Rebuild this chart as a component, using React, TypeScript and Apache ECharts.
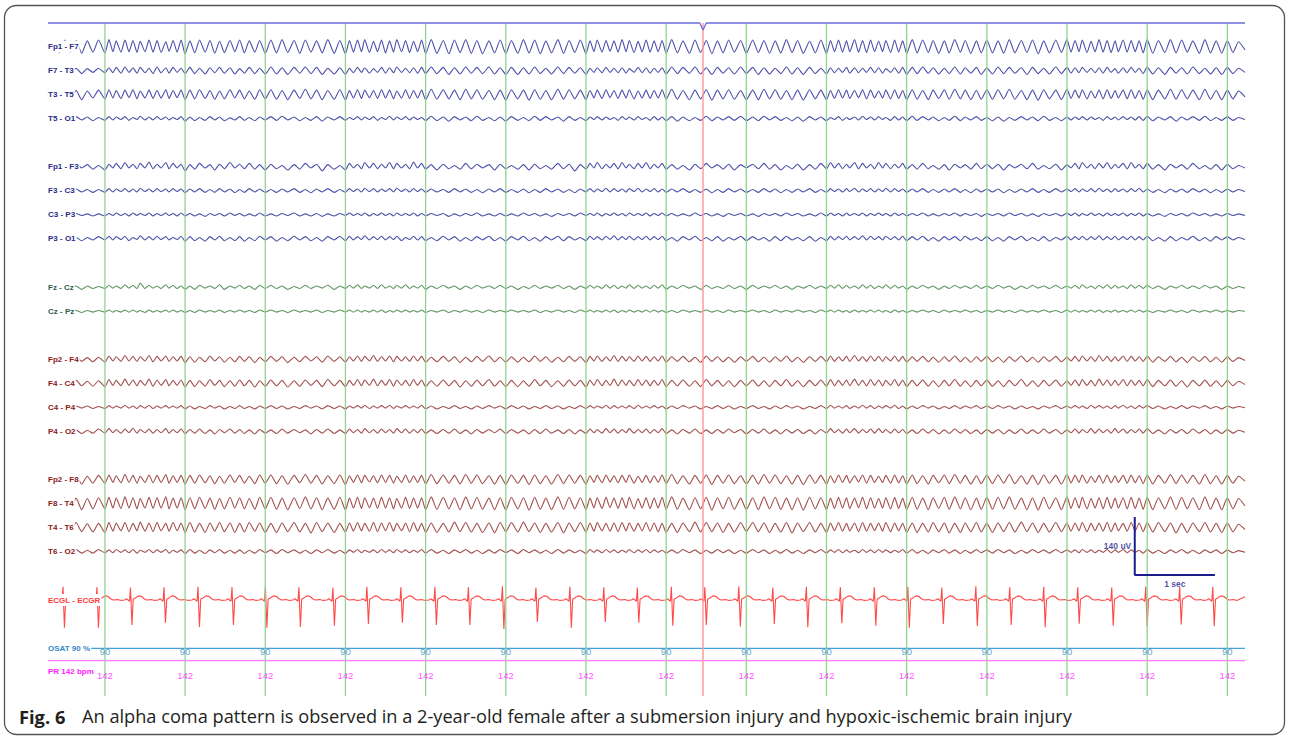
import React, { useEffect, useRef } from "react";
import * as echarts from "echarts";

// ---------- DATA ----------
// Half-wave durations (centiseconds), grouped by displayed second
const HALF_WAVE_CS: number[][] = [
  [7,7,7,7,7,7,7,7,7,8],
  [5,5,4,6,5,5,5,5,4,6,5,5,5,5,6,4,5,5,5,5],
  [6,6,6,7,6,6,6,6,7,6,6,6,6,7,6,7],
  [7,7,7,7,8,7,7,7,7,7,7,8,7,7],
  [5,5,5,5,4,6,5,5,5,5,5,5,4,6,5,5,5,5,5,5],
  [7,7,8,7,7,7,7,7,7,7,8,7,7,7],
  [7,8,7,7,7,7,7,7,8,7,7,7,7,7],
  [5,5,4,6,5,5,5,5,5,5,4,6,5,5,5,5,5,5,5,5],
  [7,7,7,8,7,7,7,7,7,7,7,7,8,7],
  [8,7,7,7,7,7,7,7,7,7,8,7,7,7],
  [5,5,5,5,5,4,6,5,5,5,5,5,5,5,4,6,5,5,5,5],
  [7,6,7,7,6,7,7,6,7,7,6,7,7,6,7],
  [7,7,7,7,7,8,7,7,7,7,7,8,7,7],
  [5,5,5,4,6,5,5,5,5,5,5,5,4,6,5,5,5,5,5,5],
  [7,7,8,7,7,7,7,7,8,7,7,7,7,7],
  [7,7,8],
];

const EEG_LABELS = [
  "Fp1 - F7","F7 - T3","T3 - T5","T5 - O1",
  "Fp1 - F3","F3 - C3","C3 - P3","P3 - O1",
  "Fz - Cz","Cz - Pz",
  "Fp2 - F4","F4 - C4","C4 - P4","P4 - O2",
  "Fp2 - F8","F8 - T4","T4 - T6","T6 - O2",
];

// amplitudes in microvolts at each turning point
const FP1_F7 = [
  [0,12,-15,16,-14,15,-16,14,-13,16,-15],
  [17,-12,14,-13,16,-12,15,-14,13,-12,16,-13,15,-14,12,-11,15,-13,16,-17],
  [14,-15,16,-13,15,-16,13,-14,15,-12,16,-15,14,-13,15,-16],
  [16,-15,17,-14,15,-16,16,-13,14,-15,17,-16,15,-17],
  [15,-13,16,-12,17,-14,13,-12,16,-15,14,-13,17,-12,15,-14,13,-12,16,-17],
  [17,-16,15,-17,16,-14,17,-16,15,-17,14,-15,16,-17],
  [15,-16,17,-15,16,-17,14,-15,17,-16,15,-14,16,-17],
  [14,-12,16,-13,15,-11,14,-13,17,-12,15,-14,13,-12,16,-13,14,-12,15,-16],
  [17,-15,14,-16,16,-14,15,-17,14,-15,16,-13,15,-16],
  [16,-14,15,-16,14,-15,17,-14,15,-16,13,-15,16,-17],
  [15,-12,16,-13,14,-12,17,-13,15,-14,16,-12,13,-12,15,-14,16,-13,14,-16],
  [17,-15,16,-14,15,-16,14,-15,17,-13,15,-16,14,-15,16],
  [-15,14,-16,17,-15,15,-14,16,-17,14,-15,16,-14,17],
  [-13,15,-12,16,-14,13,-12,17,-13,15,-14,14,-12,16,-13,15,-12,14,-15,17],
  [-16,15,-14,17,-15,16,-13,14,-16,17,-15,14,-16,15],
  [-14,12,-8],
];
const F7_T3 = [
  [0,5,-6,7,-5,6,-7,5,-4,6,-5],
  [7,-5,8,-6,9,-4,7,-6,8,-5,6,-7,9,-5,7,-6,8,-4,6,-7],
  [8,-7,6,-8,7,-5,8,-6,7,-8,5,-6,8,-7,6,-8],
  [9,-8,7,-9,8,-6,9,-7,8,-9,6,-8,7,-9],
  [6,-5,8,-4,7,-6,5,-4,8,-6,7,-5,9,-4,6,-5,7,-6,8,-7],
  [9,-7,8,-9,7,-8,9,-6,8,-7,9,-8,7,-9],
  [8,-9,7,-8,9,-7,6,-8,9,-7,8,-6,7,-9],
  [6,-4,7,-5,8,-4,6,-5,7,-6,5,-4,8,-5,7,-6,6,-4,7,-8],
  [9,-7,8,-6,9,-8,7,-9,8,-6,7,-8,9,-7],
  [8,-9,7,-8,6,-7,9,-8,7,-9,8,-7,6,-8],
  [7,-5,6,-4,8,-6,7,-5,6,-4,8,-5,7,-6,5,-4,7,-6,8,-9],
  [8,-7,9,-6,7,-8,6,-7,9,-8,7,-6,8,-9,7],
  [-8,9,-7,8,-6,7,-9,8,-7,6,-8,9,-7,8],
  [-6,7,-5,8,-4,6,-5,7,-6,8,-4,5,-6,7,-5,8,-4,6,-7,9],
  [-8,7,-9,8,-6,7,-8,9,-7,6,-8,7,-9,8],
  [-7,6,-4],
];
const T3_T5 = [
  [0,8,-10,11,-9,10,-12,9,-8,11,-10],
  [12,-8,10,-9,11,-7,12,-10,9,-8,11,-9,10,-8,12,-9,10,-7,11,-12],
  [11,-10,12,-9,10,-11,9,-10,12,-8,11,-10,9,-11,12,-10],
  [12,-11,10,-12,11,-9,13,-10,11,-12,10,-11,12,-13],
  [10,-8,12,-9,11,-7,10,-9,12,-8,11,-10,9,-8,12,-9,10,-8,11,-12],
  [13,-11,12,-10,11,-12,13,-10,12,-11,10,-12,11,-13],
  [12,-10,11,-13,12,-11,10,-12,13,-11,12,-10,11,-12],
  [10,-8,11,-9,12,-7,10,-9,11,-8,12,-10,9,-8,11,-9,10,-8,12,-11],
  [13,-11,10,-12,11,-10,12,-13,11,-10,12,-11,10,-12],
  [11,-12,13,-10,12,-11,10,-12,11,-13,12,-10,11,-12],
  [10,-9,12,-8,11,-9,10,-7,12,-10,11,-8,9,-8,11,-10,12,-9,10,-12],
  [12,-11,10,-12,11,-9,12,-11,13,-10,11,-12,10,-11,12],
  [-11,12,-10,13,-11,10,-12,11,-13,12,-10,11,-12,13],
  [-9,11,-8,12,-10,9,-8,11,-10,12,-9,10,-8,11,-10,12,-9,10,-11,12],
  [-12,11,-10,13,-11,12,-10,11,-12,13,-11,10,-12,11],
  [-10,9,-5],
];
const T5_O1 = [
  [0,4,-5,3,-4,5,-3,4,-5,3,-4],
  [5,-3,4,-2,5,-4,3,-2,6,-3,4,-3,5,-2,4,-3,3,-2,5,-6],
  [4,-5,3,-4,5,-3,4,-5,2,-3,5,-4,3,-5,4,-3],
  [5,-4,6,-3,4,-5,3,-4,5,-6,4,-3,5,-4],
  [3,-2,5,-3,4,-2,5,-4,3,-2,6,-3,4,-2,5,-3,4,-2,3,-5],
  [6,-5,4,-6,5,-3,4,-5,6,-4,3,-5,4,-6],
  [5,-4,3,-5,6,-4,5,-3,4,-6,5,-4,3,-5],
  [4,-2,5,-3,4,-2,3,-4,5,-2,4,-3,5,-2,3,-4,5,-3,4,-5],
  [5,-6,4,-5,3,-4,6,-5,4,-3,5,-4,6,-5],
  [4,-5,6,-3,5,-4,3,-5,4,-6,5,-3,4,-5],
  [3,-2,5,-4,3,-2,4,-3,6,-2,4,-3,5,-2,3,-4,5,-3,4,-5],
  [6,-4,5,-3,4,-5,3,-4,6,-5,4,-3,5,-4,3],
  [-5,4,-6,3,-4,5,-3,4,-5,6,-4,3,-5,4],
  [-3,4,-2,5,-3,4,-2,3,-4,5,-2,4,-3,5,-2,4,-3,5,-4,6],
  [-5,4,-3,5,-6,4,-3,5,-4,6,-5,3,-4,5],
  [-4,3,-2],
];
const FP1_F3 = [
  [0,5,-6,3,-5,6,-3,5,-6,3,-8],
  [6,-3,8,-5,10,-3,6,-5,8,-3,11,-5,6,-3,10,-5,8,-3,6,-10],
  [5,-6,8,-3,5,-8,6,-5,10,-3,6,-5,8,-6,5,-8],
  [6,-5,3,-8,5,-6,8,-3,6,-10,5,-6,3,-8],
  [8,-3,6,-5,10,-3,8,-5,6,-3,10,-5,8,-3,6,-5,11,-3,8,-6],
  [5,-8,6,-5,3,-6,8,-5,6,-3,5,-8,6,-5],
  [3,-6,5,-8,6,-5,3,-6,8,-5,6,-10,5,-6],
  [8,-3,10,-5,6,-3,8,-5,10,-3,6,-5,8,-3,10,-5,6,-3,8,-6],
  [5,-6,3,-8,6,-5,8,-3,5,-6,6,-8,5,-3],
  [6,-5,8,-6,5,-8,3,-5,6,-8,5,-6,8,-5],
  [10,-3,8,-5,6,-3,10,-5,8,-3,6,-5,10,-3,8,-5,6,-3,8,-6],
  [5,-6,8,-5,3,-6,5,-8,6,-3,5,-6,8,-5,6],
  [-5,6,-8,5,-3,6,-5,8,-6,3,-5,6,-8,5],
  [-3,8,-5,10,-3,6,-5,8,-3,10,-5,6,-3,8,-5,10,-3,6,-5,8],
  [-6,5,-8,6,-3,5,-6,8,-5,3,-6,5,-8,6],
  [-5,3,-3],
];
const F3_C3 = [
  [0,3,-4,3,-3,4,-3,3,-4,3,-4],
  [5,-3,4,-2,5,-3,4,-3,6,-2,4,-3,5,-2,4,-3,5,-2,4,-5],
  [4,-3,5,-4,3,-4,5,-3,4,-5,3,-4,5,-3,4,-4],
  [3,-4,4,-3,5,-4,3,-5,4,-3,5,-4,3,-4],
  [5,-2,4,-3,6,-2,5,-3,4,-2,5,-3,6,-2,4,-3,5,-2,4,-4],
  [4,-3,3,-4,5,-3,4,-4,3,-5,4,-3,5,-4],
  [3,-4,4,-5,3,-4,5,-3,4,-4,3,-5,4,-3],
  [5,-3,4,-2,6,-3,5,-2,4,-3,5,-2,6,-3,4,-2,5,-3,4,-4],
  [4,-3,5,-4,3,-4,4,-5,3,-4,5,-3,4,-4],
  [3,-4,5,-3,4,-5,3,-4,4,-3,5,-4,3,-4],
  [5,-2,4,-3,5,-2,6,-3,4,-2,5,-3,4,-2,6,-3,5,-2,4,-4],
  [4,-3,5,-4,3,-4,4,-3,5,-4,3,-5,4,-3,4],
  [-3,4,-5,3,-4,4,-3,5,-4,3,-4,5,-3,4],
  [-2,5,-3,4,-2,5,-3,6,-2,4,-3,5,-2,4,-3,5,-2,6,-3,4],
  [-4,3,-5,4,-3,4,-4,5,-3,4,-5,3,-4,4],
  [-3,3,-2],
];
const C3_P3 = [
  [0,2,-3,2,-2,3,-2,2,-3,2,-3],
  [3,-2,4,-2,3,-3,4,-2,3,-2,4,-3,3,-2,4,-2,3,-3,4,-3],
  [3,-3,2,-4,3,-2,3,-3,4,-2,3,-3,2,-3,4,-3],
  [2,-3,3,-2,4,-3,2,-3,3,-4,2,-3,3,-2],
  [4,-2,3,-2,4,-3,3,-2,4,-2,3,-3,4,-2,3,-2,4,-3,3,-3],
  [3,-2,3,-4,2,-3,3,-2,4,-3,2,-3,3,-3],
  [2,-3,4,-2,3,-3,2,-4,3,-2,3,-3,4,-2],
  [3,-2,4,-3,3,-2,4,-2,3,-3,4,-2,3,-2,4,-3,3,-2,4,-3],
  [3,-3,2,-3,4,-2,3,-3,2,-4,3,-2,3,-3],
  [2,-4,3,-2,3,-3,4,-2,3,-3,2,-3,4,-3],
  [4,-2,3,-3,4,-2,3,-2,4,-3,3,-2,4,-2,3,-3,4,-2,3,-3],
  [3,-2,4,-3,2,-3,3,-2,4,-3,3,-2,3,-4,3],
  [-2,3,-3,4,-2,3,-3,2,-4,3,-2,3,-3,4],
  [-2,4,-3,3,-2,4,-2,3,-3,4,-2,3,-2,4,-3,3,-2,4,-3,3],
  [-3,2,-4,3,-2,3,-3,4,-2,3,-3,2,-3,3],
  [-2,2,-2],
];
const P3_O1 = [
  [0,3,-5,5,-3,3,-5,3,-3,5,-3],
  [6,-3,5,-2,6,-5,3,-2,7,-3,5,-3,6,-2,5,-3,3,-2,6,-6],
  [5,-5,3,-6,5,-3,6,-5,3,-5,5,-6,3,-5,6,-3],
  [5,-6,3,-5,6,-3,5,-5,3,-6,5,-3,6,-5],
  [6,-3,5,-2,7,-3,5,-2,6,-3,5,-2,6,-5,3,-2,6,-3,5,-5],
  [3,-5,6,-3,5,-6,3,-5,5,-3,6,-5,3,-6],
  [5,-3,6,-5,3,-6,5,-3,6,-5,5,-3,3,-5],
  [6,-2,5,-3,6,-2,7,-3,5,-2,6,-3,5,-2,6,-3,5,-2,6,-5],
  [3,-6,5,-3,6,-5,3,-5,5,-6,3,-3,6,-5],
  [5,-3,3,-6,5,-5,6,-3,3,-5,5,-6,3,-5],
  [6,-3,5,-2,6,-3,5,-2,7,-3,6,-2,5,-3,6,-2,5,-3,6,-5],
  [5,-3,6,-5,3,-6,5,-3,5,-5,6,-3,3,-5,5],
  [-5,3,-6,5,-3,6,-5,3,-5,5,-6,3,-3,6],
  [-3,5,-2,6,-3,5,-2,7,-3,5,-2,6,-3,5,-2,6,-3,5,-3,6],
  [-5,3,-6,5,-5,3,-3,6,-5,3,-6,5,-3,5],
  [-3,3,-2],
];
const FZ_CZ = [
  [0,3,-3,5,-2,3,-5,3,-3,2,-3],
  [5,-2,3,-3,6,-2,5,-3,10,-3,5,-2,3,-3,6,-2,5,-3,3,-5],
  [3,-5,5,-2,3,-3,6,-5,3,-2,5,-3,3,-5,5,-3],
  [5,-3,3,-5,2,-3,5,-3,3,-2,5,-5,3,-3],
  [5,-2,6,-3,3,-2,5,-3,6,-2,3,-3,5,-2,6,-3,3,-2,5,-5],
  [3,-3,5,-2,3,-5,3,-3,5,-2,3,-3,5,-3],
  [3,-5,2,-3,5,-3,3,-2,5,-3,3,-5,3,-3],
  [5,-2,3,-3,6,-2,5,-3,3,-2,6,-3,5,-2,3,-3,5,-2,6,-5],
  [3,-3,5,-2,3,-5,5,-3,2,-3,5,-3,3,-5],
  [5,-3,3,-2,5,-3,3,-5,3,-2,5,-3,3,-3],
  [5,-2,6,-3,5,-2,3,-3,6,-2,5,-3,3,-2,6,-3,5,-2,3,-5],
  [3,-3,5,-2,3,-5,3,-3,5,-2,3,-3,5,-3,3],
  [-3,5,-2,3,-5,3,-3,5,-2,3,-3,5,-3,3],
  [-2,5,-3,6,-2,3,-3,5,-2,6,-3,5,-2,3,-3,6,-2,5,-3,5],
  [-3,3,-5,3,-2,5,-3,3,-3,5,-2,3,-5,3],
  [-3,2,-2],
];
const CZ_PZ = [
  [0,2,-2,3,-2,2,-3,2,-2,2,-2],
  [3,-2,2,-2,3,-2,3,-2,2,-3,3,-2,2,-2,3,-2,3,-2,2,-3],
  [2,-3,3,-2,2,-2,3,-3,2,-2,3,-2,2,-3,3,-2],
  [3,-2,2,-3,3,-2,2,-2,3,-3,2,-2,3,-2],
  [3,-2,3,-2,2,-2,3,-2,3,-3,2,-2,3,-2,3,-2,2,-2,3,-3],
  [2,-2,3,-3,2,-2,3,-2,2,-3,3,-2,2,-2],
  [3,-2,2,-2,3,-3,2,-2,3,-2,2,-3,3,-2],
  [3,-2,2,-2,3,-2,3,-3,2,-2,3,-2,2,-2,3,-2,3,-2,2,-3],
  [2,-3,3,-2,2,-2,3,-2,2,-3,3,-2,2,-2],
  [3,-2,2,-3,3,-2,2,-2,3,-2,2,-3,3,-2],
  [3,-2,3,-2,2,-3,3,-2,2,-2,3,-2,3,-2,2,-3,3,-2,2,-3],
  [2,-2,3,-2,2,-3,3,-2,2,-2,3,-2,2,-3,2],
  [-2,3,-2,2,-3,3,-2,2,-2,3,-2,2,-3,3],
  [-2,3,-2,2,-2,3,-2,3,-3,2,-2,3,-2,2,-2,3,-2,3,-2,2],
  [-3,2,-2,3,-2,2,-3,3,-2,2,-2,3,-2,2],
  [-2,2,0],
];
const FP2_F4 = [
  [0,4,-6,5,-4,7,-5,4,-6,5,-7],
  [8,-4,6,-5,9,-4,7,-5,6,-4,9,-6,7,-4,8,-5,6,-4,7,-8],
  [6,-7,5,-6,8,-4,6,-7,5,-6,7,-5,6,-8,5,-6],
  [7,-5,6,-8,5,-6,7,-4,6,-7,8,-5,6,-7],
  [6,-4,8,-5,7,-4,9,-5,6,-4,8,-6,7,-4,6,-5,8,-4,7,-7],
  [5,-6,7,-5,6,-8,5,-6,7,-5,8,-6,5,-7],
  [6,-7,5,-6,8,-5,6,-7,5,-6,7,-5,6,-8],
  [7,-4,8,-5,6,-4,9,-5,7,-4,6,-5,8,-4,7,-5,6,-4,8,-7],
  [6,-5,7,-6,5,-7,8,-5,6,-6,5,-7,6,-5],
  [7,-6,5,-7,6,-5,8,-6,5,-7,6,-5,7,-6],
  [8,-5,6,-4,7,-5,9,-4,6,-5,8,-4,7,-5,6,-4,8,-5,7,-7],
  [6,-5,7,-6,5,-7,6,-5,8,-6,5,-7,6,-5,7],
  [-6,5,-7,6,-5,8,-6,5,-7,6,-5,7,-6,5],
  [-4,7,-5,8,-4,6,-5,9,-4,7,-5,6,-4,8,-5,7,-4,6,-5,8],
  [-7,6,-5,7,-6,5,-8,6,-5,7,-6,5,-7,6],
  [-5,4,-3],
];
const F4_C4 = [
  [0,5,-7,6,-5,8,-6,5,-7,6,-8],
  [9,-5,7,-6,10,-5,8,-6,7,-5,10,-7,8,-5,9,-6,7,-5,8,-9],
  [7,-8,6,-7,9,-5,7,-8,6,-7,8,-6,7,-9,6,-7],
  [8,-6,7,-9,6,-7,8,-5,7,-8,9,-6,7,-8],
  [7,-5,9,-6,8,-5,10,-6,7,-5,9,-7,8,-5,7,-6,9,-5,8,-8],
  [6,-7,8,-6,7,-9,6,-7,8,-6,9,-7,6,-8],
  [7,-8,6,-7,9,-6,7,-8,6,-7,8,-6,7,-9],
  [8,-5,9,-6,7,-5,10,-6,8,-5,7,-6,9,-5,8,-6,7,-5,9,-8],
  [7,-6,8,-7,6,-8,9,-6,7,-7,6,-8,7,-6],
  [8,-7,6,-8,7,-6,9,-7,6,-8,7,-6,8,-7],
  [9,-6,7,-5,8,-6,10,-5,7,-6,9,-5,8,-6,7,-5,9,-6,8,-8],
  [7,-6,8,-7,6,-8,7,-6,9,-7,6,-8,7,-6,8],
  [-7,6,-8,7,-6,9,-7,6,-8,7,-6,8,-7,6],
  [-5,8,-6,9,-5,7,-6,10,-5,8,-6,7,-5,9,-6,8,-5,7,-6,9],
  [-8,7,-6,8,-7,6,-9,7,-6,8,-7,6,-8,7],
  [-6,5,-3],
];
const C4_P4 = [
  [0,2,-3,2,-2,3,-2,3,-3,2,-3],
  [4,-2,3,-2,5,-2,3,-3,4,-2,5,-3,3,-2,4,-2,3,-2,4,-4],
  [3,-4,2,-3,4,-2,3,-4,2,-3,4,-3,2,-4,3,-3],
  [4,-3,3,-4,2,-3,4,-2,3,-4,4,-3,3,-4],
  [3,-2,4,-2,5,-3,3,-2,4,-2,5,-3,3,-2,4,-2,3,-2,5,-4],
  [3,-4,2,-3,4,-3,2,-4,3,-3,4,-2,3,-4],
  [4,-3,3,-4,2,-3,4,-3,3,-4,2,-3,4,-3],
  [4,-2,3,-2,5,-3,4,-2,3,-2,4,-3,5,-2,3,-2,4,-2,3,-4],
  [3,-3,4,-2,3,-4,2,-3,4,-3,3,-4,2,-3],
  [4,-3,2,-4,3,-3,4,-2,3,-4,2,-3,4,-3],
  [5,-2,3,-2,4,-3,3,-2,5,-2,4,-3,3,-2,4,-2,5,-3,3,-4],
  [3,-3,4,-2,3,-4,2,-3,4,-3,3,-2,4,-3,3],
  [-3,4,-2,3,-4,3,-3,2,-4,3,-2,4,-3,3],
  [-2,4,-2,3,-3,5,-2,4,-2,3,-3,4,-2,5,-2,3,-3,4,-2,4],
  [-3,3,-4,2,-3,4,-3,3,-2,4,-3,2,-4,3],
  [-2,2,-1],
];
const P4_O2 = [
  [0,3,-4,5,-3,4,-5,3,-4,6,-4],
  [7,-3,5,-4,6,-3,8,-4,5,-3,6,-4,5,-3,7,-4,5,-3,6,-5],
  [5,-4,6,-5,4,-6,5,-3,6,-4,5,-5,4,-6,5,-4],
  [4,-5,6,-4,5,-3,4,-6,5,-4,6,-5,4,-5],
  [6,-3,5,-4,7,-3,5,-4,6,-3,5,-4,7,-3,6,-4,5,-3,6,-5],
  [4,-5,5,-4,6,-5,4,-6,5,-4,5,-3,6,-5],
  [5,-4,4,-6,5,-5,6,-4,4,-5,5,-6,4,-5],
  [6,-3,5,-4,7,-3,6,-4,5,-3,7,-4,5,-3,6,-4,5,-3,7,-5],
  [4,-6,5,-4,6,-5,4,-5,5,-4,6,-3,5,-6],
  [5,-4,6,-5,4,-6,5,-4,5,-5,4,-6,5,-4],
  [7,-3,5,-4,6,-3,7,-4,5,-3,6,-4,7,-3,5,-4,6,-3,5,-5],
  [4,-5,6,-4,5,-6,4,-5,6,-4,5,-5,4,-6,5],
  [-4,5,-6,4,-5,6,-5,4,-5,6,-4,5,-6,4],
  [-3,6,-4,5,-3,7,-4,6,-3,5,-4,7,-3,6,-4,5,-3,6,-4,7],
  [-5,4,-6,5,-4,5,-5,6,-4,5,-6,4,-5,5],
  [-4,3,-2],
];
const FP2_F8 = [
  [0,7,-9,10,-8,9,-11,8,-9,10,-9],
  [11,-7,9,-8,12,-7,10,-9,8,-7,11,-8,10,-7,12,-9,9,-7,10,-11],
  [10,-9,11,-8,9,-10,8,-9,11,-7,10,-9,8,-10,11,-9],
  [11,-10,9,-11,10,-8,12,-9,10,-11,9,-10,11,-12],
  [9,-7,11,-8,10,-6,9,-8,11,-7,10,-9,8,-7,11,-8,9,-7,10,-11],
  [12,-10,11,-9,10,-11,12,-9,11,-10,9,-11,10,-12],
  [11,-9,10,-12,11,-10,9,-11,12,-10,11,-9,10,-11],
  [9,-7,10,-8,11,-6,9,-8,10,-7,11,-9,8,-7,10,-8,9,-7,11,-10],
  [12,-10,9,-11,10,-9,11,-12,10,-9,11,-10,9,-11],
  [10,-11,12,-9,11,-10,9,-11,10,-12,11,-9,10,-11],
  [9,-8,11,-7,10,-8,9,-6,11,-9,10,-7,8,-7,10,-9,11,-8,9,-11],
  [11,-10,9,-11,10,-8,11,-10,12,-9,10,-11,9,-10,11],
  [-10,11,-9,12,-10,9,-11,10,-12,11,-9,10,-11,12],
  [-8,10,-7,11,-9,8,-7,10,-9,11,-8,9,-7,10,-9,11,-8,9,-10,11],
  [-11,10,-9,12,-10,11,-9,10,-11,12,-10,9,-11,10],
  [-9,8,-4],
];
const F8_T4 = [
  [0,10,-13,14,-12,13,-15,12,-13,14,-13],
  [15,-11,13,-12,16,-11,14,-13,12,-11,15,-12,14,-11,16,-13,13,-11,14,-15],
  [14,-13,15,-12,13,-14,12,-13,15,-11,14,-13,12,-14,15,-13],
  [15,-14,13,-15,14,-12,16,-13,14,-15,13,-14,15,-16],
  [13,-11,15,-12,14,-10,13,-12,15,-11,14,-13,12,-11,15,-12,13,-11,14,-15],
  [16,-14,15,-13,14,-15,16,-13,15,-14,13,-15,14,-16],
  [15,-13,14,-16,15,-14,13,-15,16,-14,15,-13,14,-15],
  [13,-11,14,-12,15,-10,13,-12,14,-11,15,-13,12,-11,14,-12,13,-11,15,-14],
  [16,-14,13,-15,14,-13,15,-16,14,-13,15,-14,13,-15],
  [14,-15,16,-13,15,-14,13,-15,14,-16,15,-13,14,-15],
  [13,-12,15,-11,14,-12,13,-10,15,-13,14,-11,12,-11,14,-13,15,-12,13,-15],
  [15,-14,13,-15,14,-12,15,-14,16,-13,14,-15,13,-14,15],
  [-14,15,-13,16,-14,13,-15,14,-16,15,-13,14,-15,16],
  [-12,14,-11,15,-13,12,-11,14,-13,15,-12,13,-11,14,-13,15,-12,13,-14,15],
  [-15,14,-13,16,-14,15,-13,14,-15,16,-14,13,-15,14],
  [-13,12,-6],
];
const T4_T6 = [
  [0,9,-11,10,-9,12,-10,9,-11,10,-12],
  [12,-9,11,-8,12,-10,10,-8,13,-9,11,-10,12,-8,10,-9,12,-8,11,-12],
  [12,-11,10,-12,11,-9,12,-10,11,-12,10,-11,12,-9,11,-12],
  [10,-12,11,-10,12,-11,10,-13,12,-10,11,-12,10,-11],
  [11,-9,12,-8,10,-9,12,-10,11,-8,12,-9,10,-8,11,-10,12,-9,10,-12],
  [11,-12,10,-11,13,-10,12,-11,10,-12,11,-13,12,-10],
  [12,-11,13,-10,11,-12,10,-11,12,-13,11,-10,12,-11],
  [11,-9,12,-8,10,-9,11,-10,12,-8,11,-9,10,-8,12,-9,11,-10,10,-12],
  [10,-12,11,-10,13,-11,12,-10,11,-12,10,-11,12,-10],
  [12,-10,11,-12,10,-11,12,-13,11,-10,12,-11,10,-12],
  [11,-8,12,-9,10,-8,11,-10,12,-9,10,-8,11,-9,12,-10,11,-8,10,-12],
  [11,-12,10,-11,12,-10,11,-13,10,-12,11,-10,12,-11,10],
  [-12,11,-10,12,-11,13,-10,11,-12,10,-11,12,-10,11],
  [-9,11,-8,12,-10,10,-8,11,-9,12,-10,11,-8,10,-9,12,-8,11,-10,12],
  [-11,12,-10,11,-13,10,-12,11,-10,12,-11,10,-12,11],
  [-10,8,-5],
];
const T6_O2 = [
  [0,3,-4,4,-3,5,-4,3,-4,5,-3],
  [4,-3,5,-2,4,-3,5,-4,3,-2,5,-3,4,-2,5,-4,3,-2,4,-5],
  [5,-4,3,-5,4,-3,5,-4,3,-4,4,-5,3,-4,5,-3],
  [4,-5,5,-3,4,-4,3,-5,4,-3,5,-4,3,-5],
  [4,-2,5,-3,3,-2,4,-3,5,-2,4,-3,5,-2,4,-3,3,-2,5,-4],
  [5,-4,3,-5,4,-3,5,-4,3,-5,4,-4,5,-3],
  [4,-5,5,-3,4,-4,3,-5,5,-4,4,-3,3,-5],
  [5,-2,4,-3,5,-2,4,-3,3,-2,5,-3,4,-2,5,-3,4,-2,3,-4],
  [4,-4,5,-3,4,-5,3,-4,5,-3,4,-5,3,-4],
  [5,-3,4,-5,3,-4,5,-4,3,-5,4,-3,5,-4],
  [4,-2,5,-3,4,-2,3,-3,5,-2,4,-3,5,-2,4,-3,3,-2,5,-4],
  [5,-4,3,-5,4,-3,5,-4,4,-5,3,-4,5,-3,4],
  [-4,5,-3,4,-5,3,-4,5,-3,4,-4,5,-3,4],
  [-2,4,-3,5,-2,4,-3,3,-2,5,-3,4,-2,5,-3,4,-2,3,-4,5],
  [-4,3,-5,4,-3,5,-4,3,-5,4,-3,4,-5,4],
  [-3,2,-2],
];

const EEG_VALUES = [
  FP1_F7, F7_T3, T3_T5, T5_O1,
  FP1_F3, F3_C3, C3_P3, P3_O1,
  FZ_CZ, CZ_PZ,
  FP2_F4, F4_C4, C4_P4, P4_O2,
  FP2_F8, F8_T4, T4_T6, T6_O2,
];

// ECG: R-peak times (s), R heights and S depths (uV), beat shape around R
const ECG_LABEL = "ECGL - ECGR";
const R_TIMES = [0.187,0.611,1.029,1.447,1.871,2.295,2.712,3.130,3.554,3.978,4.402,4.826,5.244,5.668,6.086,6.510,6.933,7.351,7.775,8.193,8.617,9.041,9.459,9.883,10.307,10.725,11.149,11.573,11.996,12.420,12.844,13.268,13.692,14.116,14.528];
const R_UV = [32,31,30,31,32,31,33,31,30,32,31,32,31,33,30,32,31,30,32,31,33,30,32,31,31,32,30,33,31,32,31,30,32,31,32];
const S_UV = [-67,-67,-60,-55,-65,-60,-67,-65,-62,-58,-55,-60,-60,-70,-53,-67,-53,-55,-62,-60,-64,-58,-66,-56,-62,-67,-58,-63,-60,-66,-57,-62,-65,-59,-63];
const ECG_PRE_T = [-0.075,-0.05,-0.03,-0.012];
const ECG_PRE_UV = [0,3,0,-3];
const ECG_S_DT = 0.018;
const ECG_POST_T = [0.034,0.06,0.1,0.135,0.17,0.2,0.26,0.3];
const ECG_POST_UV = [2,5,10,9,3,0,1,-1];
const ECG_END_UV = 8;

const SECOND_MARKS = [0.71,1.71,2.71,3.71,4.71,5.71,6.71,7.71,8.71,9.71,10.71,11.71,12.71,13.71,14.71];
const EVENT_TIMES = [8.17];
const OSAT_VALUES = [90,90,90,90,90,90,90,90,90,90,90,90,90,90,90];
const PR_VALUES = [142,142,142,142,142,142,142,142,142,142,142,142,142,142,142];
const OSAT_CURRENT = 90;
const PR_CURRENT = 142;
const SCALE_UV = 140;
const SCALE_SEC = 1;
const DURATION = 14.93;

const CAPTION_BOLD = "Fig. 6";
const CAPTION_TEXT = "An alpha coma pattern is observed in a 2-year-old female after a submersion injury and hypoxic-ischemic brain injury";

// ---------- LAYOUT / STYLE ----------
const W = 1289;
const H = 739;
const GRID = { left: 48, top: 23, width: 1197, height: 673 };
const ROW_Y = [46.7,70.7,94.7,118.7,166.7,190.7,214.7,238.7,287.3,311.3,359.3,383.3,407.3,431.5,479.5,503.5,527.5,551.5];
const ECG_Y = 600;
const OSAT_Y = 648.3;
const PR_Y = 660.7;
const PX_PER_UV = 58 / 140;
const SCALE_X_T = 13.555;
const SCALE_BASE_Y = 575;
const LABEL_FONT = "Liberation Sans, Arial, sans-serif";

const groupOf = (i: number) => (i < 8 ? 0 : i < 10 ? 1 : 2);
const TRACE_COLORS = ["#4e4eaa", "#5f935f", "#a24e4e"];
const LABEL_COLORS = ["#2a2a88", "#2d5b4a", "#8a2020"];

export default function App() {
  const ref = useRef<HTMLDivElement>(null);

  useEffect(() => {
    if (!ref.current) return;
    const chart = echarts.init(ref.current, undefined, { renderer: "svg" });

    const times: number[] = [0];
    let acc = 0;
    HALF_WAVE_CS.flat().forEach((d) => {
      acc += d;
      times.push(acc / 100);
    });
    const yOf = (rowY: number, uv: number) => rowY - GRID.top - uv * PX_PER_UV;

    const series: any[] = [];

    EEG_VALUES.forEach((ch, i) => {
      const vals = ch.flat();
      const n = Math.min(vals.length, times.length);
      const data: number[][] = [];
      for (let k = 0; k < n; k++) data.push([times[k], yOf(ROW_Y[i], vals[k])]);
      series.push({
        type: "line",
        data,
        symbol: "none",
        smooth: 0.2,
        silent: true,
        clip: false,
        z: 3,
        lineStyle: { color: TRACE_COLORS[groupOf(i)], width: 1.1 },
      });
    });

    // ECG
    const ecg: number[][] = [[0, yOf(ECG_Y, 0)]];
    R_TIMES.forEach((tr, b) => {
      ECG_PRE_T.forEach((dt, j) => ecg.push([tr + dt, yOf(ECG_Y, ECG_PRE_UV[j])]));
      ecg.push([tr, yOf(ECG_Y, R_UV[b])]);
      ecg.push([tr + ECG_S_DT, yOf(ECG_Y, S_UV[b])]);
      ECG_POST_T.forEach((dt, j) => ecg.push([tr + dt, yOf(ECG_Y, ECG_POST_UV[j])]));
    });
    ecg.push([DURATION, yOf(ECG_Y, ECG_END_UV)]);
    series.push({
      type: "line",
      data: ecg,
      symbol: "none",
      silent: true,
      clip: false,
      z: 3,
      lineStyle: { color: "#ff4a4a", width: 1.1 },
    });

    // second marks
    SECOND_MARKS.forEach((t) => {
      series.push({
        type: "line",
        data: [[t, 0], [t, GRID.height]],
        symbol: "none",
        silent: true,
        clip: false,
        z: 5,
        lineStyle: { color: "#8fd48f", width: 1.3 },
      });
    });
    EVENT_TIMES.forEach((t) => {
      series.push({
        type: "line",
        data: [[t, 0], [t, GRID.height]],
        symbol: "none",
        silent: true,
        clip: false,
        z: 6,
        lineStyle: { color: "#ff9c9c", width: 1.5 },
      });
    });

    // event marker channel (top line)
    const top: number[][] = [[0, 0]];
    EVENT_TIMES.forEach((t) => {
      top.push([t - 0.04, 0], [t, 7], [t + 0.04, 0]);
    });
    top.push([DURATION, 0]);
    series.push({
      type: "line",
      data: top,
      symbol: "none",
      silent: true,
      clip: false,
      z: 7,
      lineStyle: { color: "#6c6ce0", width: 1.3 },
    });

    // OSAT / PR trend lines
    series.push({
      type: "line",
      data: [[0, OSAT_Y - GRID.top], [DURATION, OSAT_Y - GRID.top]],
      symbol: "none", silent: true, clip: false, z: 3,
      lineStyle: { color: "#45a2de", width: 1.2 },
    });
    series.push({
      type: "line",
      data: [[0, PR_Y - GRID.top], [DURATION, PR_Y - GRID.top]],
      symbol: "none", silent: true, clip: false, z: 3,
      lineStyle: { color: "#ff7aff", width: 1.2 },
    });
    series.push({
      type: "scatter",
      data: SECOND_MARKS.map((t) => [t, OSAT_Y - GRID.top]),
      symbolSize: 1,
      itemStyle: { color: "rgba(0,0,0,0)" },
      silent: true, z: 8,
      label: {
        show: true, position: "inside", offset: [0, 3.5],
        formatter: (p: any) => String(OSAT_VALUES[p.dataIndex]),
        color: "#3586c8", fontSize: 9.5, fontFamily: LABEL_FONT,
      },
    });
    series.push({
      type: "scatter",
      data: SECOND_MARKS.map((t) => [t, PR_Y - GRID.top]),
      symbolSize: 1,
      itemStyle: { color: "rgba(0,0,0,0)" },
      silent: true, z: 8,
      label: {
        show: true, position: "inside", offset: [0, 14.3],
        formatter: (p: any) => String(PR_VALUES[p.dataIndex]),
        color: "#ff22ff", fontSize: 9.5, fontFamily: LABEL_FONT,
      },
    });

    // calibration bar
    const sb = SCALE_BASE_Y - GRID.top;
    series.push({
      type: "line",
      data: [[SCALE_X_T, sb - SCALE_UV * PX_PER_UV], [SCALE_X_T, sb], [SCALE_X_T + SCALE_SEC, sb]],
      symbol: "none", silent: true, clip: false, z: 9,
      lineStyle: { color: "#1c1c8c", width: 2 },
    });
    series.push({
      type: "scatter",
      data: [[SCALE_X_T, sb - (SCALE_UV * PX_PER_UV) / 2]],
      symbolSize: 1, itemStyle: { color: "rgba(0,0,0,0)" }, silent: true, z: 9,
      label: {
        show: true, position: "left", distance: 3,
        formatter: `${SCALE_UV} uV`, color: "#1c1c8c", fontSize: 8.5, fontWeight: "bold", fontFamily: LABEL_FONT,
      },
    });
    series.push({
      type: "scatter",
      data: [[SCALE_X_T + SCALE_SEC / 2, sb]],
      symbolSize: 1, itemStyle: { color: "rgba(0,0,0,0)" }, silent: true, z: 9,
      label: {
        show: true, position: "bottom", distance: 3.5,
        formatter: `${SCALE_SEC} sec`, color: "#1c1c8c", fontSize: 8.5, fontWeight: "bold", fontFamily: LABEL_FONT,
      },
    });

    // labels & frame
    const graphics: any[] = [
      {
        type: "rect", z: 0, silent: true,
        shape: { x: 4.5, y: 5.5, width: 1280, height: 729, r: 12 },
        style: { fill: "none", stroke: "#555555", lineWidth: 1.3 },
      },
    ];
    const mkLabel = (text: string, y: number, color: string) => ({
      type: "text", z: 100, silent: true, x: GRID.left, y,
      style: {
        text, fill: color, font: `bold 8px ${LABEL_FONT}`,
        align: "left", verticalAlign: "middle",
        backgroundColor: "#ffffff", padding: [2, 1, 2, 0],
      },
    });
    EEG_LABELS.forEach((l, i) => graphics.push(mkLabel(l, ROW_Y[i], LABEL_COLORS[groupOf(i)])));
    graphics.push(mkLabel(ECG_LABEL, ECG_Y, "#ff3c3c"));
    graphics.push(mkLabel(`OSAT ${OSAT_CURRENT} %`, OSAT_Y, "#3586c8"));
    graphics.push(mkLabel(`PR ${PR_CURRENT} bpm`, 671.7, "#ff22ff"));
    graphics.push({
      type: "text", z: 100, silent: true, x: 19, y: 716,
      style: { text: CAPTION_BOLD, fill: "#231f20", font: 'bold 18.3px "Open Sans", sans-serif', align: "left", verticalAlign: "middle" },
    });
    graphics.push({
      type: "text", z: 100, silent: true, x: 82, y: 716,
      style: { text: CAPTION_TEXT, fill: "#231f20", font: '18.2px "Open Sans", sans-serif', align: "left", verticalAlign: "middle" },
    });

    chart.setOption({
      animation: false,
      backgroundColor: "#ffffff",
      grid: { left: GRID.left, top: GRID.top, width: GRID.width, height: GRID.height, containLabel: false },
      xAxis: { type: "value", min: 0, max: DURATION, show: false },
      yAxis: { type: "value", min: 0, max: GRID.height, inverse: true, show: false },
      series,
      graphic: graphics,
    });

    return () => chart.dispose();
  }, []);

  return (
    <div
      ref={ref}
      style={{ position: "fixed", left: 0, top: 0, width: W, height: H, background: "#fff" }}
    />
  );
}
